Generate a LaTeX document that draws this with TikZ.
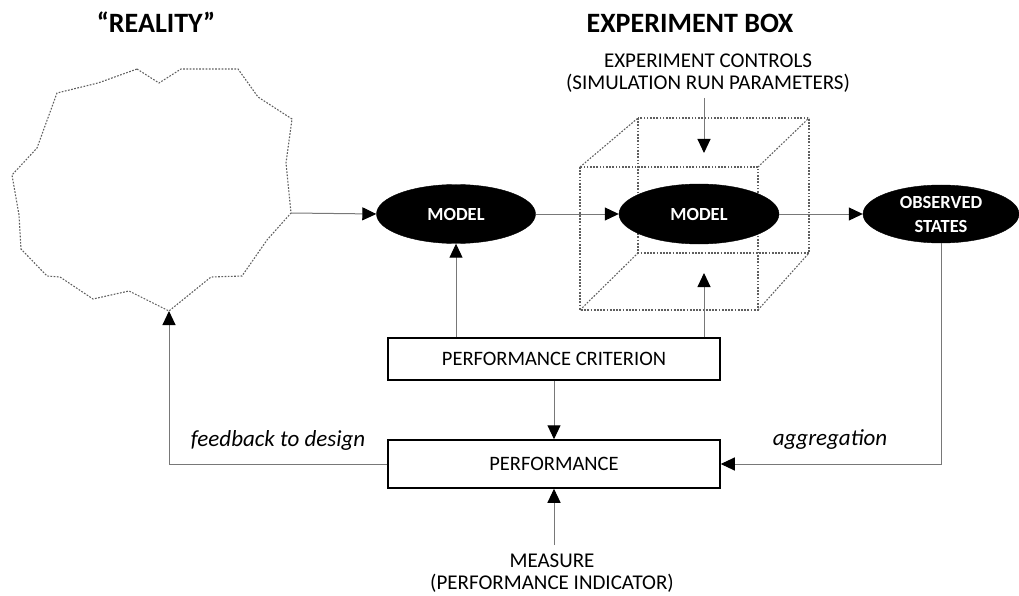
\documentclass[tikz,border=0pt]{standalone}
\usepackage{fontspec}
\setmainfont{Carlito}
\usetikzlibrary{arrows.meta,shapes.geometric}

\definecolor{wire}{RGB}{120,120,120}
\definecolor{dots}{RGB}{95,95,95}

\tikzset{
  flow/.style={draw=wire, line width=1pt,
    -{Triangle[length=14pt,width=13pt,color=black]}},
  outline/.style={draw=dots, line width=1.1pt, dash pattern=on 1.7pt off 1.5pt},
  blackoval/.style={ellipse, fill=black, draw=black, inner sep=0pt,
    text=white, font=\fontsize{18.5}{20}\selectfont\bfseries, align=center},
  framebox/.style={rectangle, draw=black, line width=1.5pt, inner sep=0pt,
    minimum width=332pt, font=\fontsize{20.5}{22}\selectfont},
  heading/.style={font=\fontsize{28}{30}\selectfont\bfseries},
  caption/.style={font=\fontsize{21}{21.5}\selectfont, align=center},
  remark/.style={font=\fontsize{23}{25}\selectfont\itshape}
}

\begin{document}
\begin{tikzpicture}[x=1pt,y=-1pt]
\useasboundingbox (0,0) rectangle (1019,596);

% the irregular outline standing for reality
\draw[outline] (137,69) -- (159,83) -- (181,69) -- (238,69) -- (258,97)
  -- (292,119) -- (286,163) -- (291,213) -- (267,240) -- (242,276)
  -- (211,277) -- (169,311) -- (129,291) -- (93,299) -- (60,277)
  -- (47,276) -- (21,249) -- (19,215) -- (12,175) -- (37,148)
  -- (57,93) -- (98,83) -- cycle;
\coordinate (rout) at (291,213);
\coordinate (rin) at (169,311);

% the experiment box, drawn as a wireframe cube
\draw[outline] (638,118) rectangle (809,253);
\draw[outline] (580,167) rectangle (758,310);
\draw[outline] (580,167) -- (638,118);
\draw[outline] (758,167) -- (809,118);
\draw[outline] (580,310) -- (638,253);
\draw[outline] (758,310) -- (809,253);

% headings
\node[heading] (hreal) at (156,22) {“REALITY”};
\node[heading] (hbox) at (690,23) {EXPERIMENT BOX};
\node[caption] (ctl) at (708,73) {EXPERIMENT CONTROLS\\(SIMULATION RUN PARAMETERS)};

% models and outputs
\node[blackoval, minimum width=159pt, minimum height=59pt] (m1) at (456,214) {MODEL};
\node[blackoval, minimum width=160pt, minimum height=60pt] (m2) at (699,214) {MODEL};
\node[blackoval, minimum width=156pt, minimum height=58pt] (obs) at (941,214) {OBSERVED\\[4pt]STATES};

% boxes
\node[framebox, minimum height=42pt] (crit) at (554,359) {PERFORMANCE CRITERION};
\node[framebox, minimum height=48pt] (perf) at (554,464) {PERFORMANCE};
\node[caption] (meas) at (552,573) {MEASURE\\(PERFORMANCE INDICATOR)};

% arrow ends inside the cube
\coordinate (ctlin) at (704,153);
\coordinate (critin) at (704,273);

% connectors
\draw[flow] (rout) -- (m1.west);
\draw[flow] (m1.east) -- (m2.west);
\draw[flow] (m2.east) -- (obs.west);
\draw[flow] (m1.south |- crit.north) -- (m1.south);
\draw[flow] (critin |- crit.north) -- (critin);
\draw[flow] (ctlin |- 0,98) -- (ctlin);
\draw[flow] (crit.south) -- (perf.north);
\draw[flow] (perf.south |- 0,545) -- (perf.south);
\draw[flow] (obs.south) |- (perf.east);
\draw[flow] (perf.west) -| (rin);

% connector labels
\node[remark] (fb) at (278,440) {feedback to design};
\node[remark] (agg) at (830,440) {aggregation};
\end{tikzpicture}
\end{document}
